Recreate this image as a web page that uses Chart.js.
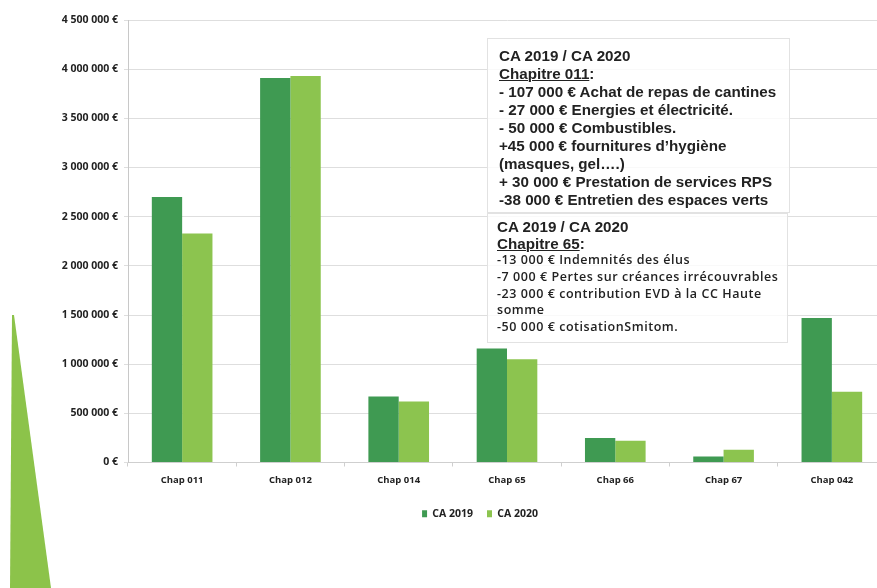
<!DOCTYPE html>
<html>
<head>
<meta charset="utf-8">
<script src="https://cdn.jsdelivr.net/npm/chart.js@4"></script>
<style>
    html, body { margin: 0; padding: 0; background: #fff; }
    body { width: 877px; height: 588px; overflow: hidden; position: relative; }
    #wrap { position: absolute; left: 0; top: 0; width: 886px; height: 588px; }
    .note {
        position: absolute;
        background: rgba(255, 255, 255, 0.82);
        border: 1px solid #e2e2e2;
        color: #222;
        box-sizing: border-box;
        white-space: nowrap;
    }
    #note1 { left: 487px; top: 38px; width: 303px; height: 175px; padding: 8px 0 0 11px;
             font: bold 15.2px "Liberation Sans", Arial, sans-serif; line-height: 18px; }
    #note2 { left: 487px; top: 213px; width: 301px; height: 130px; padding: 4px 0 0 9px;
             font: bold 15.2px "Liberation Sans", Arial, sans-serif; line-height: 17px; }
    #note2 .small { font: 600 12.5px "Open Sans", sans-serif; letter-spacing: 0.55px; line-height: 16.8px; }
    u { text-decoration-thickness: 1px; }
    #tri { position: absolute; left: 0; top: 0; }
</style>
</head>
<body>
<div id="wrap"><canvas id="chapChart" width="886" height="588"></canvas></div>

<svg id="tri" width="60" height="588">
    <polygon points="12,315 14,315 51,588 10,588" fill="#8cc34a"></polygon>
</svg>

<div class="note" id="note1">
    <div>CA 2019 / CA 2020</div>
    <div><u>Chapitre 011</u>:</div>
    <div>- 107 000 € Achat de repas de cantines</div>
    <div>- 27 000 € Energies et électricité.</div>
    <div>- 50 000 € Combustibles.</div>
    <div>+45 000 € fournitures d’hygiène</div>
    <div>(masques, gel….)</div>
    <div>+ 30 000 € Prestation de services RPS</div>
    <div>-38 000 € Entretien des espaces verts</div>
</div>

<div class="note" id="note2">
    <div>CA 2019 / CA 2020</div>
    <div><u>Chapitre 65</u>:</div>
    <div class="small">-13 000 € Indemnités des élus</div>
    <div class="small">-7 000 € Pertes sur créances irrécouvrables</div>
    <div class="small">-23 000 € contribution EVD à la CC Haute</div>
    <div class="small">somme</div>
    <div class="small">-50 000 € cotisationSmitom.</div>
</div>

<script>
// Data
const chapters = ['Chap 011', 'Chap 012', 'Chap 014', 'Chap 65', 'Chap 66', 'Chap 67', 'Chap 042'];
const ca2019 = [2700000, 3910000, 670000, 1160000, 250000, 60000, 1470000];
const ca2020 = [2330000, 3930000, 620000, 1050000, 220000, 130000, 720000];
const yMax = 4500000;
const yStep = 500000;

const darkGreen = '#3f9a52';
const lightGreen = '#8cc44f';

function euro(v) {
    return String(v).replace(/\B(?=(\d{3})+(?!\d))/g, ' ') + ' €';
}

// move the legend to sit under the middle of the plot, like the scan
const legendShift = {
    id: 'legendShift',
    afterLayout(chart) {
        chart.legend.left += 37;
        chart.legend.right += 37;
    }
};

const ctx = document.getElementById('chapChart').getContext('2d');

new Chart(ctx, {
    type: 'bar',
    data: {
        labels: chapters,
        datasets: [
            { label: 'CA 2019', data: ca2019, backgroundColor: darkGreen },
            { label: 'CA 2020', data: ca2020, backgroundColor: lightGreen }
        ]
    },
    options: {
        responsive: false,
        animation: false,
        categoryPercentage: 0.56,
        barPercentage: 1.0,
        layout: { padding: { top: 20, right: 0, bottom: 59, left: 0 } },
        plugins: {
            legend: {
                position: 'bottom',
                labels: {
                    boxWidth: 5,
                    boxHeight: 7,
                    padding: 14,
                    color: '#222',
                    font: { family: 'Open Sans', size: 10.5, weight: '700' }
                }
            },
            tooltip: { enabled: false }
        },
        scales: {
            x: {
                offset: true,
                afterFit(scale) { scale.height = 32; },
                grid: { offset: true, drawOnChartArea: false, tickLength: 4, color: '#cfcfcf' },
                border: { color: '#cfcfcf' },
                ticks: {
                    padding: 8,
                    color: '#222',
                    font: { family: 'Open Sans', size: 9.5, weight: '700' }
                }
            },
            y: {
                min: 0,
                max: yMax,
                afterFit(scale) { scale.width = 128; },
                grid: { color: '#dedede', tickLength: 4 },
                border: { color: '#c8c8c8' },
                ticks: {
                    stepSize: yStep,
                    padding: 6,
                    color: '#222',
                    font: { family: 'Open Sans', size: 10.5, weight: '700' },
                    callback: v => euro(v)
                }
            }
        }
    },
    plugins: [legendShift]
});
</script>
</body>
</html>
